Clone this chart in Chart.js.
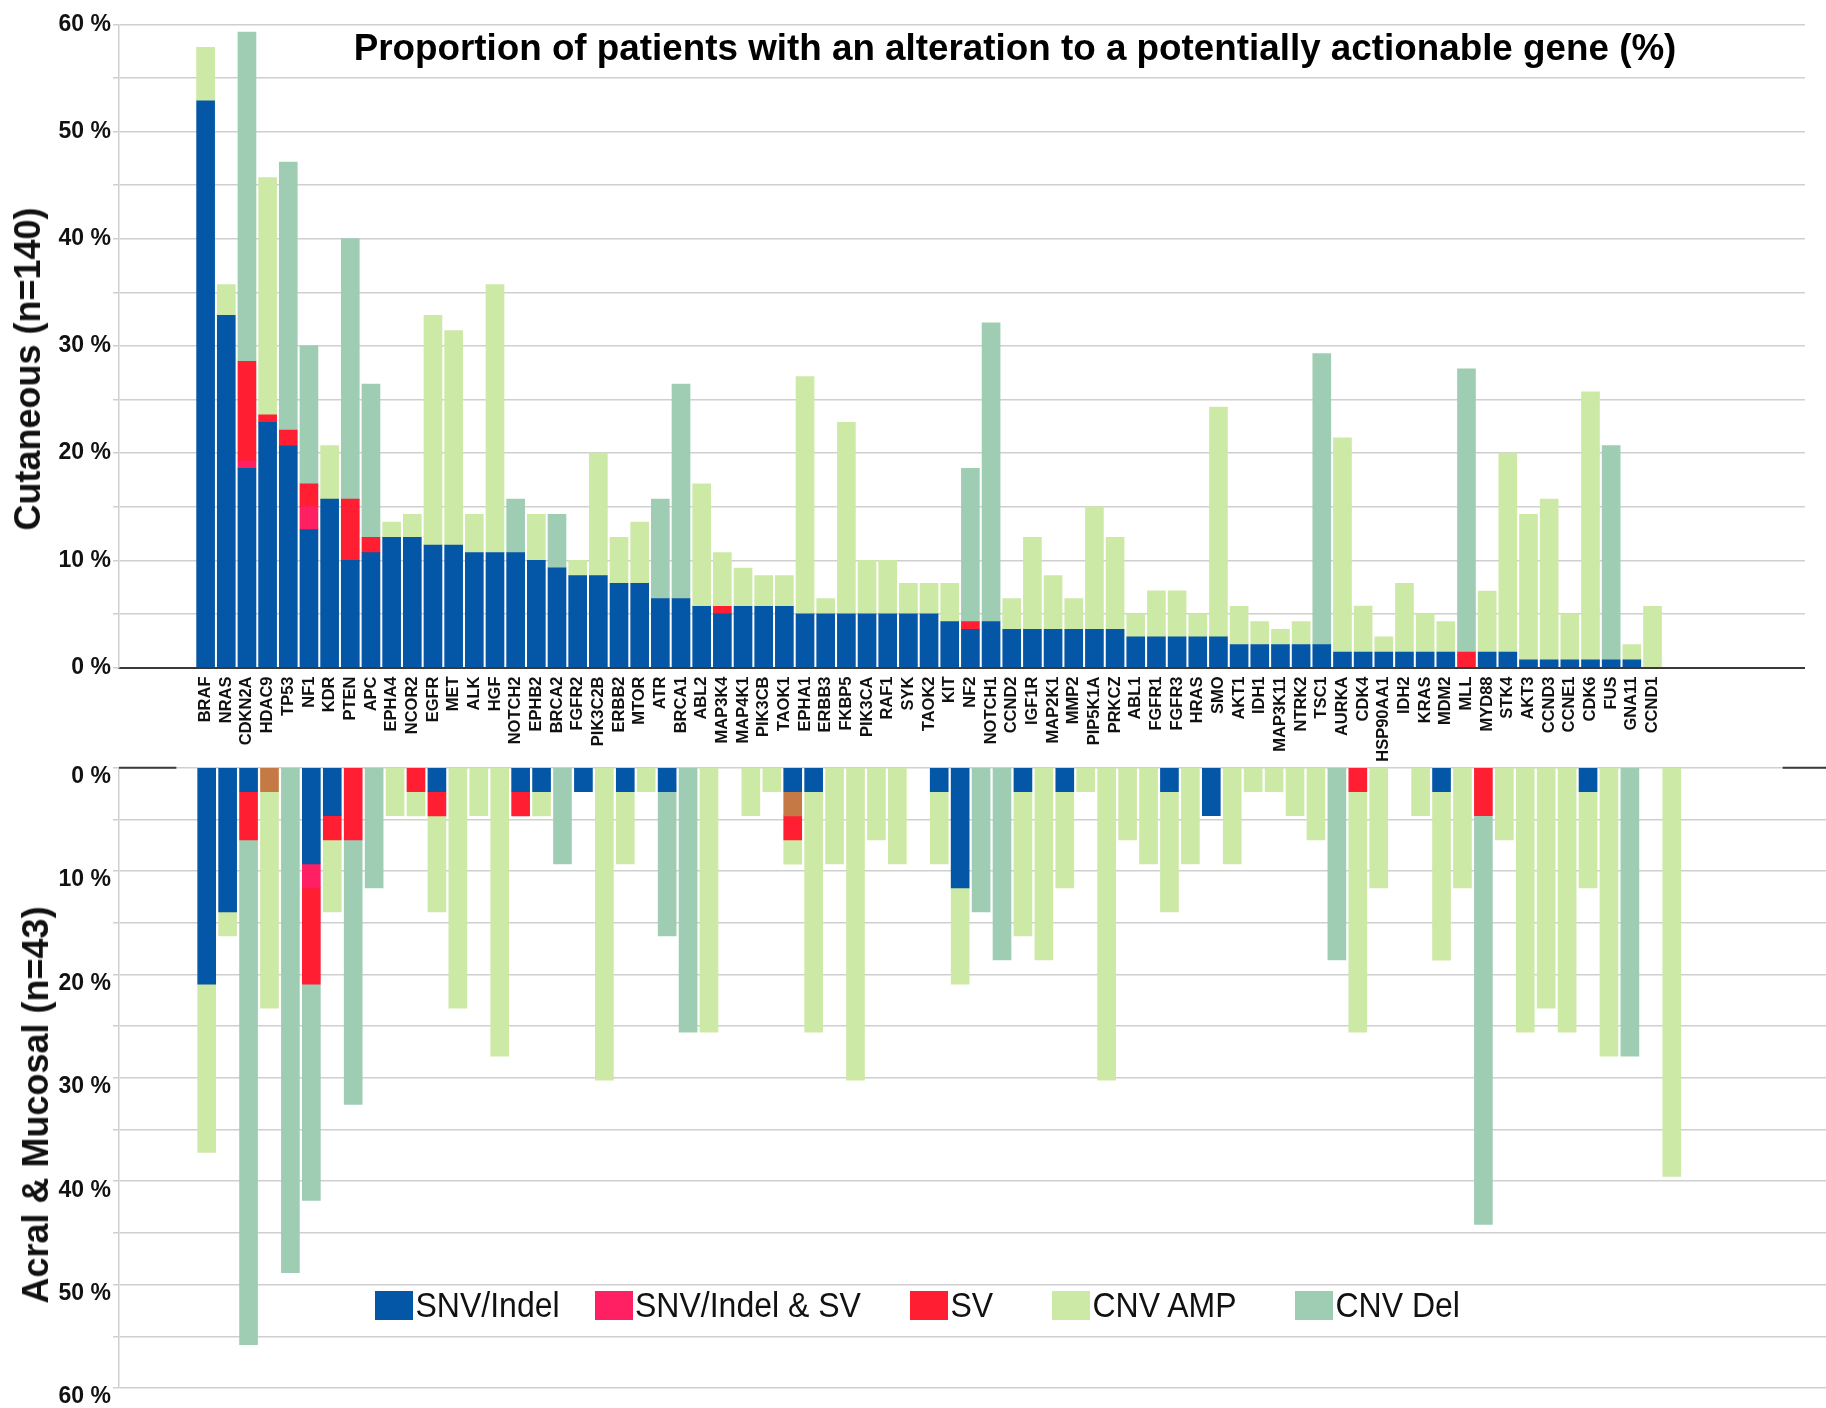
<!DOCTYPE html>
<html>
<head>
<meta charset="utf-8">
<script src="https://cdn.jsdelivr.net/npm/chart.js@4.4.1/dist/chart.umd.min.js"></script>
<style>
html,body{margin:0;padding:0;background:#fff;}
#wrap{position:relative;width:1826px;height:1408px;overflow:hidden;font-family:"Liberation Sans",Arial,sans-serif;background:#fff;}
#topC{position:absolute;left:0;top:0;}
#botC{position:absolute;left:0;top:740px;}
.title{position:absolute;left:215px;width:1600px;top:29.5px;text-align:center;font-weight:bold;font-size:36.8px;line-height:36px;color:#000;white-space:nowrap;}
.ytitle{position:absolute;font-weight:bold;font-size:36px;line-height:36px;color:#111;white-space:nowrap;transform:translate(-50%,-50%) rotate(-90deg);}
.leg{position:absolute;top:1291px;height:29px;display:flex;align-items:center;}
.leg .box{width:38px;height:29px;flex:none;}
.leg .txt{margin-left:2.5px;font-size:32px;line-height:29px;color:#111;white-space:nowrap;transform:scaleY(1.1);transform-origin:left center;}
</style>
</head>
<body>
<div id="wrap">
  <canvas id="topC" width="1826" height="770"></canvas>
  <canvas id="botC" width="1826" height="668"></canvas>
  <div class="title" id="title"></div>
  <div class="ytitle" id="yt1" style="left:28px;top:369px;"></div>
  <div class="ytitle" id="yt2" style="left:36px;top:1105px;"></div>
  <div id="legend"></div>
</div>
<script>
// ---------------- DATA ----------------
const chartTitle = 'Proportion of patients with an alteration to a potentially actionable gene (%)';
const topAxisTitle = 'Cutaneous (n=140)';
const bottomAxisTitle = 'Acral & Mucosal (n=43)';

const genes = ['BRAF','NRAS','CDKN2A','HDAC9','TP53','NF1','KDR','PTEN','APC','EPHA4',
  'NCOR2','EGFR','MET','ALK','HGF','NOTCH2','EPHB2','BRCA2','FGFR2','PIK3C2B',
  'ERBB2','MTOR','ATR','BRCA1','ABL2','MAP3K4','MAP4K1','PIK3CB','TAOK1','EPHA1',
  'ERBB3','FKBP5','PIK3CA','RAF1','SYK','TAOK2','KIT','NF2','NOTCH1','CCND2',
  'IGF1R','MAP2K1','MMP2','PIP5K1A','PRKCZ','ABL1','FGFR1','FGFR3','HRAS','SMO',
  'AKT1','IDH1','MAP3K11','NTRK2','TSC1','AURKA','CDK4','HSP90AA1','IDH2','KRAS',
  'MDM2','MLL','MYD88','STK4','AKT3','CCND3','CCNE1','CDK6','FUS','GNA11','CCND1'];

const seriesLabels = ['SNV/Indel','SNV/Indel & SV','Other','SV','CNV AMP','CNV Del'];
const seriesColors = ['#0456a6','#ff1f63','#c57a45','#ff1e32','#cde9a6','#9fcdb4'];
const legendSeries = [0,1,3,4,5];

const yTickValues = [0,10,20,30,40,50,60];

// Cutaneous (n=140), % of patients
const cutSNV = [52.86,32.86,18.57,22.86,20.71,12.86,15.71,10.00,10.71,12.14,
  12.14,11.43,11.43,10.71,10.71,10.71,10.00,9.29,8.57,8.57,
  7.86,7.86,6.43,6.43,5.71,5.00,5.71,5.71,5.71,5.00,
  5.00,5.00,5.00,5.00,5.00,5.00,4.29,3.57,4.29,3.57,
  3.57,3.57,3.57,3.57,3.57,2.86,2.86,2.86,2.86,2.86,
  2.14,2.14,2.14,2.14,2.14,1.43,1.43,1.43,1.43,1.43,
  1.43,0,1.43,1.43,0.71,0.71,0.71,0.71,0.71,0.71,0];
const cutSNVSV = [0,0,0.71,0,0,2.14,0,0,0,0,
  0,0,0,0,0,0,0,0,0,0,
  0,0,0,0,0,0,0,0,0,0,
  0,0,0,0,0,0,0,0,0,0,
  0,0,0,0,0,0,0,0,0,0,
  0,0,0,0,0,0,0,0,0,0,
  0,0,0,0,0,0,0,0,0,0,0];
const cutOther = [0,0,0,0,0,0,0,0,0,0,
  0,0,0,0,0,0,0,0,0,0,
  0,0,0,0,0,0,0,0,0,0,
  0,0,0,0,0,0,0,0,0,0,
  0,0,0,0,0,0,0,0,0,0,
  0,0,0,0,0,0,0,0,0,0,
  0,0,0,0,0,0,0,0,0,0,0];
const cutSV = [0,0,9.29,0.71,1.43,2.14,0,5.71,1.43,0,
  0,0,0,0,0,0,0,0,0,0,
  0,0,0,0,0,0.71,0,0,0,0,
  0,0,0,0,0,0,0,0.71,0,0,
  0,0,0,0,0,0,0,0,0,0,
  0,0,0,0,0,0,0,0,0,0,
  0,1.43,0,0,0,0,0,0,0,0,0];
const cutAMP = [5.00,2.86,0,22.14,0,0,5.00,0,0,1.43,
  2.14,21.43,20.00,3.57,25.00,0,4.29,0,1.43,11.43,
  4.29,5.71,0,0,11.43,5.00,3.57,2.86,2.86,22.14,
  1.43,17.86,5.00,5.00,2.86,2.86,3.57,0,0,2.86,
  8.57,5.00,2.86,11.43,8.57,2.14,4.29,4.29,2.14,21.43,
  3.57,2.14,1.43,2.14,0,20.00,4.29,1.43,6.43,3.57,
  2.86,0,5.71,18.57,13.57,15.00,4.29,25.00,0,1.43,5.71];
const cutDEL = [0,0,30.71,0,25.00,12.86,0,24.29,14.29,0,
  0,0,0,0,0,5.00,0,5.00,0,0,
  0,0,9.29,20.00,0,0,0,0,0,0,
  0,0,0,0,0,0,0,14.29,27.86,0,
  0,0,0,0,0,0,0,0,0,0,
  0,0,0,0,27.14,0,0,0,0,0,
  0,26.43,0,0,0,0,0,0,20.00,0,0];

// Acral & Mucosal (n=43), % of patients
const amSNV = [20.93,13.95,2.33,0,0,9.30,4.65,0,0,0,
  0,2.33,0,0,0,2.33,2.33,0,2.33,0,
  2.33,0,2.33,0,0,0,0,0,2.33,2.33,
  0,0,0,0,0,2.33,11.63,0,0,2.33,
  0,2.33,0,0,0,0,2.33,0,4.65,0,
  0,0,0,0,0,0,0,0,0,2.33,
  0,0,0,0,0,0,2.33,0,0,0,0];
const amSNVSV = [0,0,0,0,0,2.33,0,0,0,0,
  0,0,0,0,0,0,0,0,0,0,
  0,0,0,0,0,0,0,0,0,0,
  0,0,0,0,0,0,0,0,0,0,
  0,0,0,0,0,0,0,0,0,0,
  0,0,0,0,0,0,0,0,0,0,
  0,0,0,0,0,0,0,0,0,0,0];
const amOther = [0,0,0,2.33,0,0,0,0,0,0,
  0,0,0,0,0,0,0,0,0,0,
  0,0,0,0,0,0,0,0,2.33,0,
  0,0,0,0,0,0,0,0,0,0,
  0,0,0,0,0,0,0,0,0,0,
  0,0,0,0,0,0,0,0,0,0,
  0,0,0,0,0,0,0,0,0,0,0];
const amSV = [0,0,4.65,0,0,9.30,2.33,6.98,0,0,
  2.33,2.33,0,0,0,2.33,0,0,0,0,
  0,0,0,0,0,0,0,0,2.33,0,
  0,0,0,0,0,0,0,0,0,0,
  0,0,0,0,0,0,0,0,0,0,
  0,0,0,0,0,2.33,0,0,0,0,
  0,4.65,0,0,0,0,0,0,0,0,0];
const amAMP = [16.28,2.33,0,20.93,0,0,6.98,0,0,4.65,
  2.33,9.30,23.26,4.65,27.91,0,2.33,0,0,30.23,
  6.98,2.33,0,0,25.58,0,4.65,2.33,2.33,23.26,
  9.30,30.23,6.98,9.30,0,6.98,9.30,0,0,13.95,
  18.60,9.30,2.33,30.23,6.98,9.30,11.63,9.30,0,9.30,
  2.33,2.33,4.65,6.98,0,23.26,11.63,0,4.65,16.28,
  11.63,0,6.98,25.58,23.26,25.58,9.30,27.91,0,0,39.53];
const amDEL = [0,0,48.84,0,48.84,20.93,0,25.58,11.63,0,
  0,0,0,0,0,0,0,9.30,0,0,
  0,0,13.95,25.58,0,0,0,0,0,0,
  0,0,0,0,0,0,0,13.95,18.60,0,
  0,0,0,0,0,0,0,0,0,0,
  0,0,0,0,18.60,0,0,0,0,0,
  0,39.53,0,0,0,0,0,0,27.91,0,0];

const cutSeries = [cutSNV, cutSNVSV, cutOther, cutSV, cutAMP, cutDEL];
const amSeries  = [amSNV, amSNVSV, amOther, amSV, amAMP, amDEL];

// ---------------- LAYOUT / STYLE ----------------
const FONT = '"Liberation Sans", Arial, sans-serif';
Chart.defaults.font.family = FONT;
const X_MIN = -4.19, X_MAX = 77.37;
const GRID = '#cfcfcf';

function makeDatasets(series){
  return series.map((arr, i) => ({
    label: seriesLabels[i],
    // empty segments are left out so they leave no hairline
    data: arr.map((v, j) => ({x: j, y: v === 0 ? null : v})),
    backgroundColor: seriesColors[i],
    borderWidth: 0,
    barThickness: 18
  }));
}

function yAxis(reverse, labelOffset){
  return {
    min: 0, max: 60, reverse: reverse, stacked: true,
    ticks: {
      stepSize: 5,
      callback: v => yTickValues.includes(v) ? v + ' %' : '',
      font: {size: 23, weight: 'bold', family: FONT},
      color: '#111', padding: 2, labelOffset: labelOffset
    },
    grid: {color: GRID, lineWidth: 1.5, tickLength: 6, drawTicks: true},
    border: {color: GRID, width: 1.5},
    afterFit: s => { s.width = 119; }
  };
}

new Chart(document.getElementById('topC'), {
  type: 'bar',
  data: {datasets: makeDatasets(cutSeries)},
  options: {
    responsive: false, animation: false,
    layout: {padding: {top: 24.3, left: 0, right: 0, bottom: 0}},
    plugins: {legend: {display: false}, tooltip: {enabled: false}, title: {display: false}},
    scales: {
      x: {
        type: 'linear', min: X_MIN, max: X_MAX, stacked: true, offset: false,
        grid: {display: false, drawTicks: false, offset: false},
        border: {display: true, color: '#3a3a3a', width: 2},
        ticks: {
          stepSize: 1, includeBounds: false, autoSkip: false,
          maxRotation: 90, minRotation: 90, padding: 9,
          font: {size: 16.5, weight: 'bold', family: FONT}, color: '#111',
          callback: v => (genes[v] !== undefined ? genes[v] : '')
        },
        afterFit: s => { s.height = 102.5; }
      },
      y: yAxis(false, 0)
    }
  }
});

const zeroDark = {
  id: 'zeroDark',
  afterDatasetsDraw(chart){
    const {ctx, chartArea: a, scales: {x, y}} = chart;
    const py = y.getPixelForValue(0);
    ctx.save();
    ctx.strokeStyle = '#3a3a3a'; ctx.lineWidth = 2;
    ctx.beginPath();
    ctx.moveTo(a.left, py); ctx.lineTo(x.getPixelForValue(-1.45), py);
    ctx.moveTo(x.getPixelForValue(75.3), py); ctx.lineTo(a.right, py);
    ctx.stroke();
    ctx.restore();
  }
};

new Chart(document.getElementById('botC'), {
  type: 'bar',
  data: {datasets: makeDatasets(amSeries)},
  options: {
    responsive: false, animation: false,
    layout: {padding: {top: 27.7, left: 0, right: 0, bottom: 20}},
    plugins: {legend: {display: false}, tooltip: {enabled: false}},
    scales: {
      x: {type: 'linear', display: false, min: X_MIN, max: X_MAX, stacked: true, offset: false},
      y: yAxis(true, 9)
    }
  },
  plugins: [zeroDark]
});

// ---------------- TEXT OVERLAYS ----------------
document.getElementById('title').textContent = chartTitle;
document.getElementById('yt1').textContent = topAxisTitle;
document.getElementById('yt2').textContent = bottomAxisTitle;

const legendLeft = [375, 594.5, 910, 1052, 1295];
const legendEl = document.getElementById('legend');
legendSeries.forEach((si, k) => {
  const item = document.createElement('div');
  item.className = 'leg';
  item.style.left = legendLeft[k] + 'px';
  const box = document.createElement('div');
  box.className = 'box';
  box.style.background = seriesColors[si];
  const txt = document.createElement('div');
  txt.className = 'txt';
  txt.textContent = seriesLabels[si];
  item.appendChild(box); item.appendChild(txt);
  legendEl.appendChild(item);
});
</script>
</body>
</html>
